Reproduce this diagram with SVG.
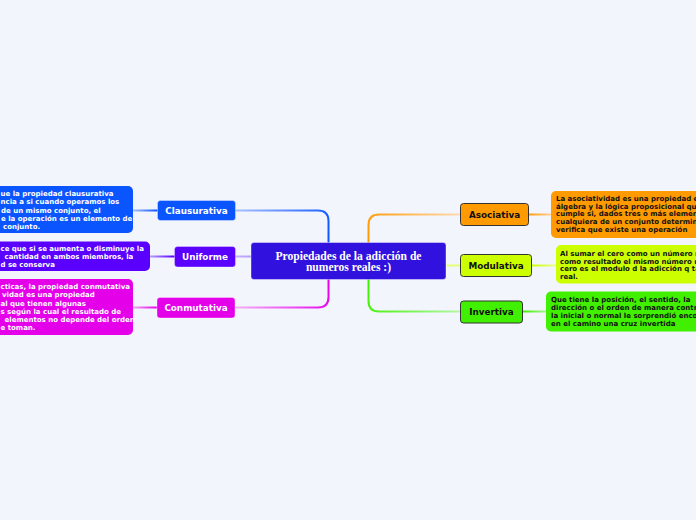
<svg xmlns="http://www.w3.org/2000/svg" width="696" height="520" viewBox="0 0 696 520">
<style>
.bg{fill:#f3f5fd}
.d{font-family:"DejaVu Sans",Verdana,sans-serif;font-weight:bold;font-size:7px}
.dw{fill:#ffffff}
.dk{fill:#111111}
.n{font-family:"DejaVu Sans",Verdana,sans-serif;font-weight:bold;font-size:8.8px;text-anchor:middle}
.nw{fill:#ffffff}
.c{font-family:"Liberation Serif","Times New Roman",serif;font-weight:bold;font-size:11.6px;fill:#ffffff;text-anchor:middle}
.ln{fill:none;stroke-width:2;stroke-linecap:round}
.rb{stroke:#333333;stroke-width:1}
.lb{stroke:#ffffff;stroke-opacity:0.35;stroke-width:1}
</style>
<defs>
<linearGradient id="gCl" gradientUnits="userSpaceOnUse" x1="236" y1="210" x2="328" y2="242"><stop offset="0" stop-color="#a9c0ff"/><stop offset="1" stop-color="#0b55ff"/></linearGradient>
<linearGradient id="gUn" gradientUnits="userSpaceOnUse" x1="236" y1="0" x2="251" y2="0"><stop offset="0" stop-color="#c7b0ff"/><stop offset="1" stop-color="#b49cff"/></linearGradient>
<linearGradient id="gCo" gradientUnits="userSpaceOnUse" x1="236" y1="307" x2="328" y2="279"><stop offset="0" stop-color="#f4b0f6"/><stop offset="1" stop-color="#e500ea"/></linearGradient>
<linearGradient id="gAs" gradientUnits="userSpaceOnUse" x1="460" y1="214" x2="368" y2="242"><stop offset="0" stop-color="#ffd9b0"/><stop offset="1" stop-color="#ff9a00"/></linearGradient>
<linearGradient id="gMo" gradientUnits="userSpaceOnUse" x1="446" y1="0" x2="460" y2="0"><stop offset="0" stop-color="#e6ff80"/><stop offset="1" stop-color="#e0ff70"/></linearGradient>
<linearGradient id="gIn" gradientUnits="userSpaceOnUse" x1="460" y1="311" x2="368" y2="279"><stop offset="0" stop-color="#b4f7a6"/><stop offset="1" stop-color="#40f000"/></linearGradient>
<linearGradient id="hCl" gradientUnits="userSpaceOnUse" x1="133" y1="0" x2="157" y2="0"><stop offset="0" stop-color="#a9c0ff"/><stop offset="1" stop-color="#0b55ff"/></linearGradient>
<linearGradient id="hUn" gradientUnits="userSpaceOnUse" x1="150" y1="0" x2="174" y2="0"><stop offset="0" stop-color="#b9a0ff"/><stop offset="1" stop-color="#5a00ff"/></linearGradient>
<linearGradient id="hCo" gradientUnits="userSpaceOnUse" x1="133" y1="0" x2="157" y2="0"><stop offset="0" stop-color="#f0a8f2"/><stop offset="1" stop-color="#e500ea"/></linearGradient>
<linearGradient id="hAs" gradientUnits="userSpaceOnUse" x1="528" y1="0" x2="551" y2="0"><stop offset="0" stop-color="#ff9a00"/><stop offset="1" stop-color="#ffcf99"/></linearGradient>
<linearGradient id="hMo" gradientUnits="userSpaceOnUse" x1="532" y1="0" x2="556" y2="0"><stop offset="0" stop-color="#ccff00"/><stop offset="1" stop-color="#e8ff90"/></linearGradient>
<linearGradient id="hIn" gradientUnits="userSpaceOnUse" x1="523" y1="0" x2="546" y2="0"><stop offset="0" stop-color="#40f000"/><stop offset="1" stop-color="#a8f590"/></linearGradient>
</defs>
<rect class="bg" x="0" y="0" width="696" height="520"/>

<g id="connectors">
<path class="ln" stroke="url(#gCl)" d="M236,210.5 H318 Q328.5,210.5 328.5,221 V242"/>
<path class="ln" stroke="url(#gUn)" d="M236,256.5 H251"/>
<path class="ln" stroke="url(#gCo)" d="M236,307.5 H318 Q328.5,307.5 328.5,297 V279"/>
<path class="ln" stroke="url(#gAs)" d="M368.5,242 V225 Q368.5,214.5 379,214.5 H460"/>
<path class="ln" stroke="url(#gMo)" d="M446,265.5 H460"/>
<path class="ln" stroke="url(#gIn)" d="M368.5,279 V301 Q368.5,311.5 379,311.5 H460"/>
<path class="ln" stroke="url(#hCl)" d="M133,210.5 H157"/>
<path class="ln" stroke="url(#hUn)" d="M150,256.5 H174"/>
<path class="ln" stroke="url(#hCo)" d="M133,307.5 H157"/>
<path class="ln" stroke="url(#hAs)" d="M528,214.5 H551"/>
<path class="ln" stroke="url(#hMo)" d="M532,265.5 H556"/>
<path class="ln" stroke="url(#hIn)" d="M523,311.5 H546"/>
</g>

<g id="central">
<rect x="251" y="242.5" width="195" height="37" rx="3" fill="#3011de" stroke="#ffffff" stroke-opacity="0.4"/>
<text class="c" x="348.5" y="259.5">Propiedades de la adicción de</text>
<text class="c" x="348.5" y="270.5">numeros reales :)</text>
</g>

<g id="clausurativa">
<rect class="lb" x="157.5" y="200.5" width="78" height="20" rx="3" fill="#0b55ff"/>
<text class="n nw" x="196.5" y="213.8">Clausurativa</text>
</g>
<g id="clausurativa-desc">
<rect x="-100" y="186" width="233" height="47" rx="5" fill="#0b55ff"/>
<text class="d dw"><tspan x="0.5" y="196">ue la propiedad clausurativa</tspan><tspan x="0.5" y="204.3">ncia a si cuando operamos los</tspan><tspan x="1" y="212.7">de un mismo conjunto, el</tspan><tspan x="1" y="221">e la operación es un elemento de</tspan><tspan x="3" y="229.3">conjunto.</tspan></text>
</g>

<g id="uniforme">
<rect class="lb" x="174.5" y="246.5" width="61" height="20.5" rx="3" fill="#5a00ff"/>
<text class="n nw" x="205" y="260">Uniforme</text>
</g>
<g id="uniforme-desc">
<rect x="-100" y="241.5" width="250" height="29.5" rx="5" fill="#5a00ff"/>
<text class="d dw"><tspan x="0.5" y="250.5">ce que si se aumenta o disminuye la</tspan><tspan x="4.5" y="259">cantidad en ambos miembros, la</tspan><tspan x="0.5" y="267.3">d se conserva</tspan></text>
</g>

<g id="conmutativa">
<rect class="lb" x="157" y="297.5" width="78" height="20.5" rx="3" fill="#e500ea"/>
<text class="n nw" x="196" y="310.8">Conmutativa</text>
</g>
<g id="conmutativa-desc">
<rect x="-100" y="279" width="233" height="56" rx="5" fill="#e500ea"/>
<text class="d dw"><tspan x="0.5" y="289">cticas, la propiedad conmutativa</tspan><tspan x="2" y="297.3">vidad es una propiedad</tspan><tspan x="0.5" y="305.5">al que tienen algunas</tspan><tspan x="0.5" y="313.7">s según la cual el resultado de</tspan><tspan x="4.5" y="322">elementos no depende del orden</tspan><tspan x="0.5" y="330.2">e toman.</tspan></text>
</g>

<g id="asociativa">
<rect class="rb" x="460.5" y="203.5" width="68" height="22" rx="3" fill="#ff9a00"/>
<text class="n dk" x="494.5" y="217.6">Asociativa</text>
</g>
<g id="asociativa-desc">
<rect x="551" y="191" width="200" height="47" rx="5" fill="#ff9a00"/>
<text class="d dk"><tspan x="556" y="200.8">La asociatividad es una propiedad e</tspan><tspan x="556" y="208.5">álgebra y la lógica proposicional que</tspan><tspan x="556" y="216.2">cumple si, dados tres o más elemen</tspan><tspan x="556" y="223.8">cualquiera de un conjunto determin</tspan><tspan x="556" y="231.5">verifica que existe una operación</tspan></text>
</g>

<g id="modulativa">
<rect class="rb" x="460.5" y="254.5" width="71" height="22" rx="3" fill="#ccff00"/>
<text class="n dk" x="496" y="268.6">Modulativa</text>
</g>
<g id="modulativa-desc">
<rect x="556" y="245" width="200" height="38.5" rx="5" fill="#ccff00"/>
<text class="d dk"><tspan x="560" y="255.8">Al sumar el cero como un número n</tspan><tspan x="560" y="263.5">como resultado el mismo número n</tspan><tspan x="560" y="271.2">cero es el modulo d la adicción q ta</tspan><tspan x="560" y="278.9">real.</tspan></text>
</g>

<g id="invertiva">
<rect class="rb" x="460.5" y="301" width="62" height="22" rx="3" fill="#40f000"/>
<text class="n dk" x="491.5" y="315.2">Invertiva</text>
</g>
<g id="invertiva-desc">
<rect x="546" y="291.5" width="200" height="40" rx="5" fill="#40f000"/>
<text class="d dk"><tspan x="551" y="301.5">Que tiene la posición, el sentido, la</tspan><tspan x="551" y="309.5">dirección o el orden de manera contra</tspan><tspan x="551" y="317.8">la inicial o normal le sorprendió enco</tspan><tspan x="551" y="325.5">en el camino una cruz invertida</tspan></text>
</g>
</svg>
